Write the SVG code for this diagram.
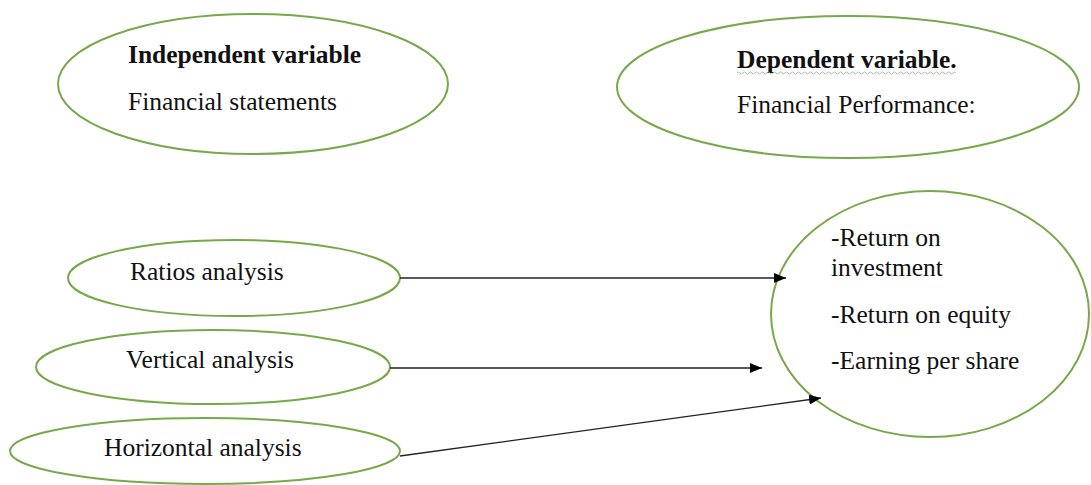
<svg xmlns="http://www.w3.org/2000/svg" width="1091" height="485" viewBox="0 0 1091 485">
<style>
.n{fill:#fff;stroke:#77a94a;stroke-width:2}
.t{font-family:"Liberation Serif",serif;font-size:25.5px;fill:#111}
.b{font-weight:bold}
.c{stroke:#222;stroke-width:1.3;fill:none}
</style>
<defs>
<marker id="ah" viewBox="0 0 12 10" refX="12" refY="5" markerWidth="12" markerHeight="10" markerUnits="userSpaceOnUse" orient="auto">
<path d="M0,0 L12,5 L0,10 z" fill="#000"/>
</marker>
</defs>
<rect width="1091" height="485" fill="#fff"/>
<g id="independent">
<ellipse class="n" cx="253" cy="84" rx="195" ry="70"/>
<text class="t b" x="128" y="63">Independent variable</text>
<text class="t" x="128" y="110">Financial statements</text>
</g>
<g id="dependent">
<ellipse class="n" cx="848" cy="87" rx="231" ry="71"/>
<text class="t b" x="737" y="68">Dependent variable.</text>
<path d="M737,73 q1.5,-2 3,0 t3,0 t3,0 t3,0 t3,0 t3,0 t3,0 t3,0 t3,0 t3,0 t3,0 t3,0 t3,0 t3,0 t3,0 t3,0 t3,0 t3,0 t3,0 t3,0 t3,0 t3,0 t3,0 t3,0 t3,0 t3,0 t3,0 t3,0 t3,0 t3,0 t3,0 t3,0 t3,0 t3,0 t3,0 t3,0 t3,0 t3,0 t3,0 t3,0 t3,0 t3,0 t3,0 t3,0 t3,0 t3,0 t3,0 t3,0 t3,0 t3,0 t3,0 t3,0 t3,0 t3,0 t3,0 t3,0 t3,0 t3,0 t3,0 t3,0 t3,0 t3,0 t3,0 t3,0 t3,0 t3,0 t3,0 t3,0 t3,0 t3,0 t3,0 t3,0 t3,0" fill="none" stroke="#8fb08f" stroke-width="0.8"/>
<text class="t" x="737" y="113">Financial Performance:</text>
</g>
<g id="ratios">
<ellipse class="n" cx="234" cy="278" rx="166" ry="38"/>
<text class="t" x="130" y="280">Ratios analysis</text>
</g>
<g id="vertical">
<ellipse class="n" cx="213" cy="367" rx="177" ry="37"/>
<text class="t" x="126" y="368">Vertical analysis</text>
</g>
<g id="horizontal">
<ellipse class="n" cx="205" cy="451" rx="195" ry="33"/>
<text class="t" x="104" y="456">Horizontal analysis</text>
</g>
<g id="performance">
<ellipse class="n" cx="930" cy="314" rx="159" ry="123"/>
<text class="t" x="831" y="246">-Return on</text>
<text class="t" x="831" y="276">investment</text>
<text class="t" x="831" y="323">-Return on equity</text>
<text class="t" x="831" y="369">-Earning per share</text>
</g>
<g id="connectors">
<line class="c" x1="400" y1="278" x2="786" y2="278" marker-end="url(#ah)"/>
<line class="c" x1="390" y1="368" x2="762" y2="368" marker-end="url(#ah)"/>
<line class="c" x1="400" y1="456" x2="821" y2="398" marker-end="url(#ah)"/>
</g>
</svg>
